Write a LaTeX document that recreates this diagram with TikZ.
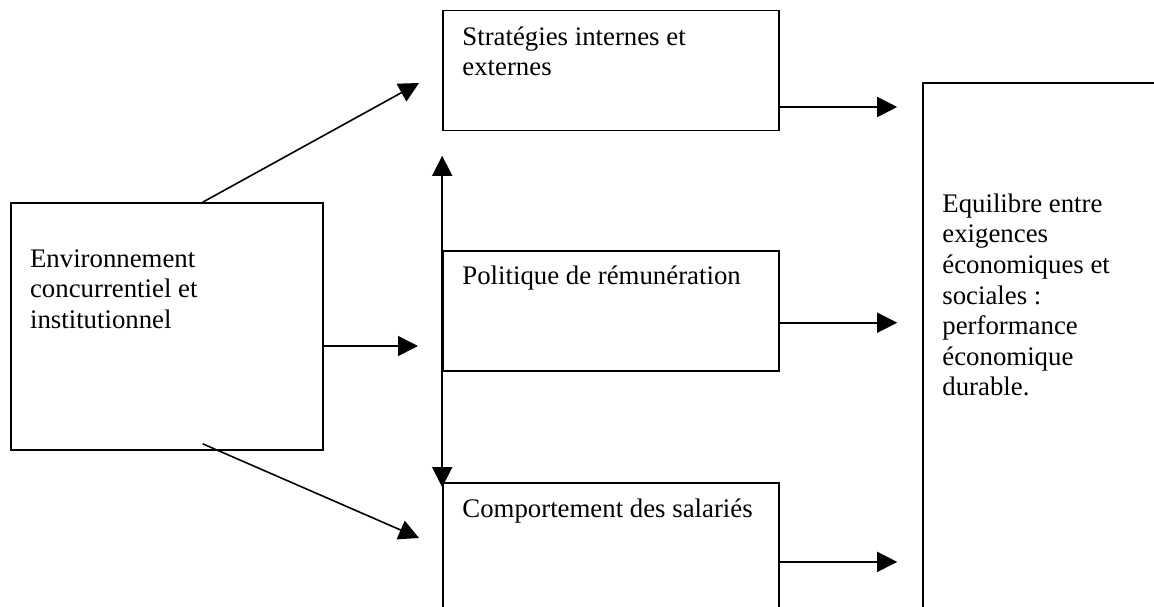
\documentclass[tikz,border=0pt]{standalone}
\usepackage{fontspec}
\setmainfont{Liberation Serif}
\usetikzlibrary{positioning,arrows.meta}

\tikzset{
	boite/.style={draw, line width=1.6pt, inner sep=0pt},
	texte/.style={inner sep=0pt, align=left, font=\fontsize{26.8}{30.6}\selectfont},
	fleche/.style={line width=1.6pt, -{Triangle[length=20pt,width=20pt]}}
}

\begin{document}
\begin{tikzpicture}[x=1pt, y=-1pt]
	\useasboundingbox (0,0) rectangle (1154,607);
	\clip (0,0) rectangle (1154,607);
	
	%Drawing the boxes
	\node[boite, minimum width=312pt, minimum height=247pt] (env) at (166.7,326.5) {};
	\node[boite, minimum width=336pt, minimum height=120pt] (strat) at (611,70.7) {};
	\node[boite, minimum width=336pt, minimum height=120pt] (pol) at (611,310.7) {};
	\node[boite, minimum width=336pt, minimum height=200pt] (comp) at (611,583) {};
	\node[boite, minimum width=277pt, minimum height=617pt] (equi) at (1061.5,391.4) {};
	
	%Texts
	\node[texte, below right=47pt and 20pt of env.north west] (tenv) {Environnement\\concurrentiel et\\institutionnel};
	\node[texte, below right=16.5pt and 20pt of strat.north west] (tstrat) {Stratégies internes et\\externes};
	\node[texte, below right=15.5pt and 20pt of pol.north west] (tpol) {Politique de rémunération};
	\node[texte, below right=16.5pt and 20pt of comp.north west] (tcomp) {Comportement des salariés};
	\node[texte, below right=111.5pt and 20pt of equi.north west] (tequi) {Equilibre entre\\exigences\\économiques et\\sociales :\\performance\\économique\\durable.};
	
	%Free ends of the arrows
	\coordinate (a1) at (419,83);
	\coordinate (a2) at (418,346);
	\coordinate (a3) at (419,538);
	
	%Start points on the right side
	\coordinate (s1) at ([yshift=-36.3pt]strat.east);
	\coordinate (s2) at ([yshift=-12pt]pol.east);
	\coordinate (s3) at ([yshift=-79.7pt]comp.north east);
	
	%Arrows from the environment
	\draw[fleche] ([xshift=36pt]env.north) -- (a1);
	\draw[fleche] ([yshift=-19.5pt]env.east) -- (a2);
	\draw[fleche] ([xshift=36pt,yshift=7pt]env.south) -- (a3);
	
	%Vertical double arrow
	\draw[line width=1.6pt, {Triangle[length=20pt,width=20pt]}-{Triangle[length=20pt,width=20pt]}] ([yshift=-24.3pt]strat.south west) -- ([yshift=-5pt]comp.north west);
	
	%Arrows towards the balance
	\draw[fleche, shorten >=25pt] (s1) -- (equi.west |- s1);
	\draw[fleche, shorten >=25pt] (s2) -- (equi.west |- s2);
	\draw[fleche, shorten >=25pt] (s3) -- (equi.west |- s3);
	
\end{tikzpicture}
\end{document}
